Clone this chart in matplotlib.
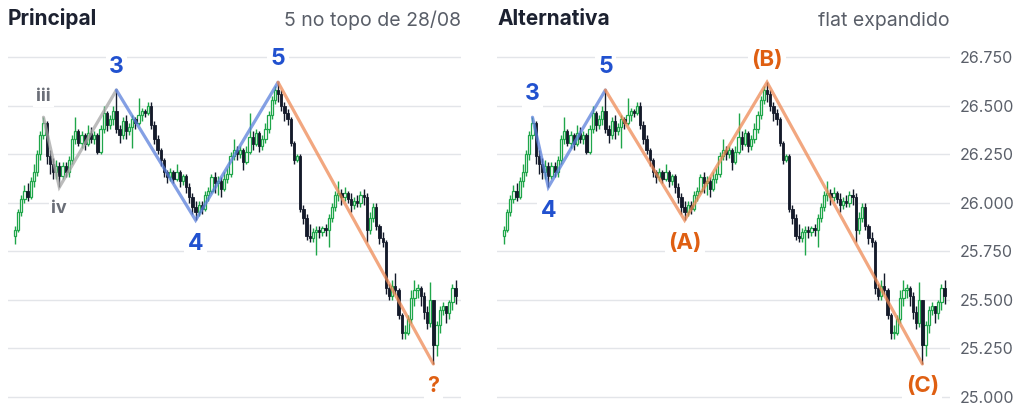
import numpy as np
import matplotlib.pyplot as plt

plt.rcParams['font.family'] = ['Inter', 'DejaVu Sans']

# candle data (same series in both panels)
close = [25.86, 25.95, 26.02, 26.06, 26.03, 26.11, 26.16, 26.25, 26.35, 26.41,
         26.24, 26.20, 26.16, 26.19, 26.14, 26.19, 26.16, 26.22, 26.33, 26.37,
         26.31, 26.35, 26.30, 26.36, 26.33, 26.35, 26.26, 26.38, 26.46, 26.40,
         26.43, 26.47, 26.38, 26.35, 26.42, 26.37, 26.39, 26.43, 26.41, 26.45,
         26.47, 26.46, 26.50, 26.40, 26.33, 26.27, 26.22, 26.16, 26.13, 26.16,
         26.12, 26.16, 26.11, 26.14, 26.08, 26.03, 25.98, 25.95, 25.99, 25.97,
         26.04, 26.06, 26.13, 26.10, 26.11, 26.07, 26.12, 26.15, 26.24, 26.27,
         26.25, 26.27, 26.21, 26.26, 26.34, 26.30, 26.36, 26.29, 26.33, 26.38,
         26.45, 26.53, 26.58, 26.56, 26.50, 26.46, 26.43, 26.31, 26.22, 26.24,
         25.97, 25.92, 25.83, 25.82, 25.85, 25.86, 25.85, 25.87, 25.86, 25.92,
         25.98, 26.04, 26.05, 26.03, 26.05, 26.02, 25.99, 26.01, 26.00, 26.04,
         26.03, 25.86, 25.92, 25.98, 25.88, 25.82, 25.80, 25.56, 25.52, 25.57,
         25.55, 25.42, 25.33, 25.33, 25.40, 25.51, 25.55, 25.56, 25.52, 25.44,
         25.38, 25.50, 25.27, 25.37, 25.45, 25.47, 25.43, 25.49, 25.56, 25.52]
high = [25.88, 25.97, 26.04, 26.09, 26.10, 26.13, 26.20, 26.27, 26.37, 26.44,
        26.42, 26.27, 26.23, 26.22, 26.21, 26.21, 26.21, 26.24, 26.35, 26.44,
        26.38, 26.37, 26.36, 26.40, 26.39, 26.37, 26.36, 26.40, 26.50, 26.47,
        26.45, 26.50, 26.58, 26.40, 26.44, 26.45, 26.41, 26.45, 26.44, 26.54,
        26.49, 26.48, 26.52, 26.52, 26.42, 26.35, 26.28, 26.23, 26.17, 26.18,
        26.17, 26.20, 26.17, 26.15, 26.15, 26.10, 26.05, 26.01, 26.01, 26.01,
        26.06, 26.08, 26.15, 26.16, 26.14, 26.13, 26.16, 26.18, 26.26, 26.33,
        26.29, 26.29, 26.28, 26.29, 26.46, 26.37, 26.38, 26.37, 26.35, 26.41,
        26.47, 26.55, 26.60, 26.62, 26.58, 26.52, 26.48, 26.44, 26.32, 26.25,
        26.25, 25.99, 25.94, 25.89, 25.87, 25.88, 25.88, 25.88, 25.89, 25.94,
        26.00, 26.06, 26.11, 26.07, 26.08, 26.06, 26.05, 26.03, 26.04, 26.06,
        26.07, 26.05, 25.95, 26.00, 26.00, 25.89, 25.85, 25.81, 25.58, 25.60,
        25.64, 25.56, 25.43, 25.37, 25.42, 25.55, 25.60, 25.58, 25.57, 25.54,
        25.47, 25.59, 25.50, 25.39, 25.47, 25.49, 25.47, 25.50, 25.58, 25.60]
low = [25.79, 25.85, 25.93, 26.00, 26.01, 26.02, 26.08, 26.14, 26.22, 26.33,
       26.20, 26.15, 26.12, 26.12, 26.08, 26.12, 26.13, 26.13, 26.20, 26.30,
       26.29, 26.28, 26.27, 26.29, 26.31, 26.30, 26.25, 26.25, 26.36, 26.37,
       26.38, 26.40, 26.36, 26.31, 26.33, 26.33, 26.35, 26.28, 26.38, 26.40,
       26.42, 26.44, 26.45, 26.38, 26.30, 26.25, 26.19, 26.13, 26.10, 26.11,
       26.10, 26.11, 26.08, 26.09, 26.05, 26.00, 25.94, 25.91, 25.93, 25.94,
       25.96, 26.01, 26.05, 26.05, 26.04, 26.03, 26.06, 26.10, 26.13, 26.22,
       26.22, 26.23, 26.17, 26.20, 26.25, 26.27, 26.29, 26.26, 26.27, 26.31,
       26.36, 26.43, 26.51, 26.52, 26.47, 26.42, 26.40, 26.29, 26.20, 26.21,
       25.95, 25.89, 25.81, 25.80, 25.80, 25.73, 25.82, 25.83, 25.83, 25.77,
       25.90, 25.96, 26.01, 25.99, 26.01, 26.00, 25.95, 25.97, 25.98, 25.98,
       25.99, 25.80, 25.84, 25.90, 25.86, 25.79, 25.77, 25.53, 25.50, 25.50,
       25.53, 25.40, 25.30, 25.30, 25.32, 25.38, 25.47, 25.51, 25.47, 25.40,
       25.35, 25.36, 25.17, 25.21, 25.33, 25.42, 25.38, 25.40, 25.45, 25.48]
first_open = 25.83

# wave pivots: (candle index, 'h' high / 'l' low, label)
principal_gray = [(9, 'h', 'iii'), (14, 'l', 'iv'), (32, 'h', '')]
principal_blue = [(32, 'h', '3'), (57, 'l', '4'), (83, 'h', '5')]
principal_orange = [(83, 'h', ''), (132, 'l', '?')]
alt_blue = [(9, 'h', '3'), (14, 'l', '4'), (32, 'h', '5')]
alt_orange = [(32, 'h', ''), (57, 'l', '(A)'), (83, 'h', '(B)'), (132, 'l', '(C)')]

yticks = [25.0, 25.25, 25.5, 25.75, 26.0, 26.25, 26.5, 26.75]

close = np.array(close)
high = np.array(high)
low = np.array(low)
opn = np.concatenate([[first_open], close[:-1]])
idx = np.arange(len(close))

GREEN = '#1fa64a'
DARK = '#141a2a'
BLUE = '#5b80dc'
ORANGE = '#ee8a55'
GRAY = '#a6a6a6'
BLUE_TXT = '#2151cf'
ORANGE_TXT = '#df5f12'
GRAY_TXT = '#6b6f78'


def draw_candles(ax):
    up = close >= opn
    ax.vlines(idx, low, high, color=np.where(up, GREEN, DARK), linewidth=1.0, zorder=2)
    bottoms = np.minimum(opn, close)
    heights = np.maximum(np.abs(close - opn), 0.006)
    ax.bar(idx[up], heights[up], bottom=bottoms[up], width=0.72,
           facecolor='white', edgecolor=GREEN, linewidth=0.9, zorder=3)
    ax.bar(idx[~up], heights[~up], bottom=bottoms[~up], width=0.72,
           facecolor=DARK, edgecolor=DARK, linewidth=0.6, zorder=3)


def draw_wave(ax, pivots, color, txt_color, size, off=10):
    xs = [p[0] for p in pivots]
    ys = [high[i] if k == 'h' else low[i] for i, k, _ in pivots]
    ax.plot(xs, ys, color=color, linewidth=2.3, alpha=0.75, zorder=4,
            solid_capstyle='round', solid_joinstyle='miter')
    for (i, k, lab), y in zip(pivots, ys):
        if not lab:
            continue
        ax.annotate(lab, (i, y), xytext=(0, off if k == 'h' else -off),
                    textcoords='offset points',
                    ha='center', va='bottom' if k == 'h' else 'top',
                    fontsize=size, fontweight='bold', color=txt_color, zorder=6,
                    bbox=dict(boxstyle='square,pad=0.15', fc='white', ec='none'))


def setup(ax):
    ax.set_xlim(-2.2, 140.7)
    ax.set_ylim(24.96, 26.80)
    ax.set_yticks(yticks)
    ax.grid(axis='y', color='#e3e5e9', linewidth=1.0, zorder=0)
    ax.set_axisbelow(True)
    ax.set_xticks([])
    for s in ax.spines.values():
        s.set_visible(False)
    ax.tick_params(axis='y', length=0)


fig = plt.figure(figsize=(10.23, 4.15), dpi=100)
ax1 = fig.add_axes([0.0078, 0.0246, 0.4428, 0.8614])
ax2 = fig.add_axes([0.4858, 0.0246, 0.4428, 0.8614])

setup(ax1)
ax1.set_yticklabels([])
draw_candles(ax1)
draw_wave(ax1, principal_gray, GRAY, GRAY_TXT, 13, off=9)
draw_wave(ax1, principal_blue, BLUE, BLUE_TXT, 16.5, off=9)
draw_wave(ax1, principal_orange, ORANGE, ORANGE_TXT, 15.5, off=9)

setup(ax2)
ax2.yaxis.tick_right()
ax2.set_yticklabels([f'{v:.3f}' for v in yticks], fontsize=11.5, color='#5a5f69')
ax2.tick_params(axis='y', pad=7)
draw_candles(ax2)
draw_wave(ax2, alt_blue, BLUE, BLUE_TXT, 16.5, off=9)
draw_wave(ax2, alt_orange, ORANGE, ORANGE_TXT, 16, off=9)

fig.text(0.0078, 0.955, 'Principal', fontsize=15, fontweight='bold', color='#1c2130',
         ha='left', va='center')
fig.text(0.4506, 0.950, '5 no topo de 28/08', fontsize=14, color='#595e68',
         ha='right', va='center')
fig.text(0.4868, 0.955, 'Alternativa', fontsize=15, fontweight='bold', color='#1c2130',
         ha='left', va='center')
fig.text(0.9286, 0.950, 'flat expandido', fontsize=14, color='#595e68',
         ha='right', va='center')

fig.savefig('out.png', dpi=100)
